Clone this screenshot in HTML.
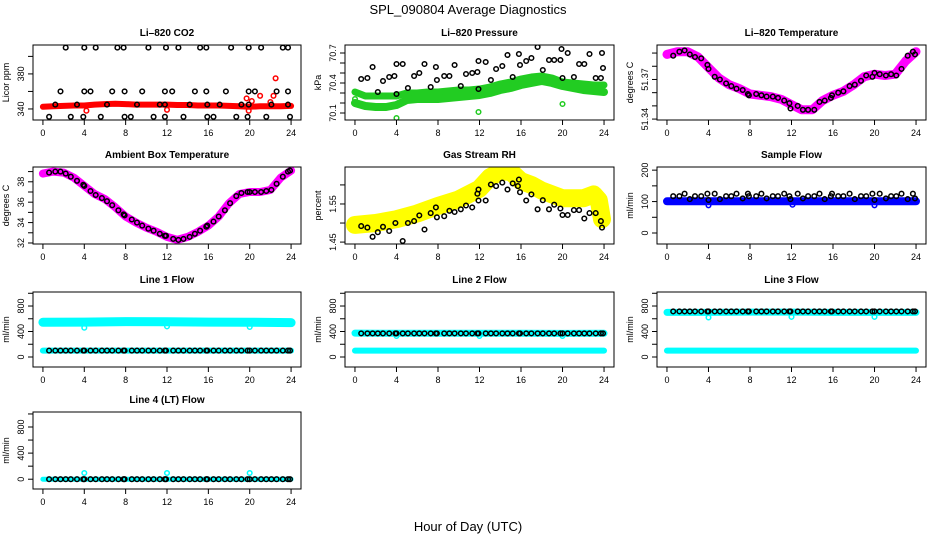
<!DOCTYPE html>
<html><head><meta charset="utf-8"><style>
html,body{margin:0;padding:0;background:#fff;}
svg{display:block;font-family:"Liberation Sans",sans-serif;}
</style></head><body>
<svg id="chart" width="936" height="540" viewBox="0 0 936 540" xmlns="http://www.w3.org/2000/svg">
<rect width="936" height="540" fill="#fff"/>
<text x="468" y="14" text-anchor="middle" font-size="13">SPL_090804  Average Diagnostics</text>
<text x="468" y="531" text-anchor="middle" font-size="13">Hour of Day (UTC)</text>
</svg>
<script>
// ---- shared data ----
const xTicks = [0,4,8,12,16,20,24];
const T48 = [0.6,1.2,1.7,2.2,2.7,3.3,3.9,4.0,4.6,5.1,5.7,6.2,6.7,7.3,7.8,7.9,8.6,9.1,9.6,10.2,10.7,11.3,11.8,11.9,12.6,13.1,13.6,14.2,14.7,15.2,15.8,15.9,16.5,17.0,17.6,18.1,18.7,19.2,19.8,20.0,20.5,21.1,21.6,22.1,22.6,23.2,23.7,23.9];
const hours = [0,1,2,3,4,5,6,7,8,9,10,11,12,13,14,15,16,17,18,19,20,21,22,23,24];

// CO2
const co2BandVals = [342.5,343,343.5,344,344,345,345.5,346,345.5,345,345,345,345,344.5,344.5,344,344,344,343.5,343,342.5,343,343,343,343.5];
const co2Times = [2.2,4.0,5.1,7.2,7.8,10.2,11.9,13.1,15.2,15.8,18.2,19.9,21.1,23.2,23.7, 1.7,4.0,4.6,6.7,7.9,9.6,11.8,12.5,14.7,15.8,17.7,19.9,20.5,22.6,23.7, 1.2,3.3,6.2,9.1,11.3,11.8,14.2,15.9,17.1,19.2,19.9,22.1,23.7, 0.6,2.7,3.9,5.6,7.9,8.5,10.7,11.8,13.6,15.9,16.5,18.7,19.8,21.6,23.9];
const co2Vals = [410,410,410,410,410,410,410,410,410,410,410,410,410,410,410, 360,360,360,360,360,360,360,360,360,360,360,360,360,360,360, 345,345,345,345,345,345,345,345,345,345,345,345,345, 331,331,331,331,331,331,331,331,331,331,331,331,331,331,331];
const co2OutT = [4.2,12.0,19.7,19.9,20.2,21.0,22.0,22.3,22.5];
const co2OutV = [338,339,352,338,349,355,348,355,375];

// Pressure
const presUpper = [70.31,70.27,70.27,70.27,70.27,70.3,70.3,70.31,70.31,70.32,70.33,70.33,70.34,70.36,70.39,70.41,70.44,70.46,70.47,70.45,70.41,70.4,70.39,70.38,70.38];
const presLower = [70.2,70.17,70.16,70.16,70.18,70.23,70.24,70.24,70.24,70.25,70.26,70.27,70.28,70.3,70.33,70.35,70.38,70.4,70.42,70.4,70.37,70.35,70.33,70.32,70.31];
const presT = [0.6,1.2,1.7,2.2,2.7,3.3,3.8,4.0,4.0,4.6,5.1,5.7,6.2,6.7,7.3,7.8,7.9,8.6,9.1,9.6,10.2,10.7,11.3,11.8,11.9,11.9,12.6,13.1,13.6,14.2,14.7,15.2,15.8,15.9,16.5,17.0,17.6,18.1,18.7,19.2,19.8,19.9,20.0,20.5,21.1,21.6,22.1,22.6,23.2,23.7,23.8,23.9];
const presV = [70.44,70.45,70.56,70.31,70.42,70.46,70.47,70.59,70.29,70.59,70.35,70.47,70.5,70.59,70.36,70.56,70.43,70.47,70.47,70.58,70.37,70.49,70.5,70.51,70.62,70.34,70.61,70.43,70.54,70.57,70.68,70.46,70.69,70.58,70.62,70.65,70.76,70.53,70.63,70.63,70.63,70.74,70.45,70.7,70.46,70.59,70.59,70.69,70.45,70.45,70.7,70.55];
const presOutT = [0.0,4.0,11.9,20.0];
const presOutV = [70.24,70.05,70.11,70.19];

// Li-820 temperature
const liBand = [51.389,51.391,51.391,51.387,51.379,51.371,51.366,51.363,51.359,51.358,51.357,51.355,51.351,51.347,51.347,51.354,51.358,51.361,51.366,51.372,51.374,51.373,51.374,51.384,51.391];
const liVals = [51.388,51.391,51.392,51.389,51.387,51.386,51.381,51.378,51.372,51.37,51.367,51.365,51.363,51.362,51.359,51.358,51.359,51.358,51.357,51.357,51.356,51.354,51.352,51.348,51.35,51.347,51.347,51.347,51.353,51.354,51.356,51.358,51.36,51.361,51.365,51.366,51.369,51.373,51.372,51.375,51.374,51.373,51.374,51.373,51.378,51.388,51.391,51.389];

// Ambient box temperature
const ambBand = [38.8,39.0,38.9,38.4,37.6,36.8,36.3,35.5,34.6,34.0,33.5,33.1,32.6,32.3,32.6,33.1,33.7,34.6,35.9,36.8,37.0,37.0,37.2,38.4,39.1];
const ambVals = [38.9,39.0,39.0,38.8,38.5,38.1,37.7,37.6,37.1,36.7,36.4,36.1,35.7,35.2,34.8,34.7,34.3,34.0,33.7,33.4,33.2,32.9,32.7,32.7,32.4,32.3,32.4,32.6,32.9,33.2,33.6,33.7,34.1,34.6,35.2,35.9,36.6,36.9,37.0,37.0,37.0,37.0,37.1,37.2,37.8,38.5,39.0,39.1];

// Gas stream RH
const rhBandT = [0,2,4,6,8,10,12,13,14,15,16,17,18,20,22,23,23.5,23.8];
const rhBandV = [1.495,1.5,1.51,1.525,1.545,1.562,1.59,1.62,1.635,1.635,1.61,1.6,1.585,1.565,1.565,1.575,1.56,1.51];
const rhT = [0.6,1.2,1.7,2.2,2.7,3.3,3.9,4.6,5.1,5.7,6.2,6.7,7.3,7.8,7.9,8.6,9.1,9.6,10.2,10.7,11.3,11.8,11.9,11.9,12.6,13.1,13.6,14.2,14.7,15.2,15.7,15.8,15.9,16.5,17.0,17.6,18.1,18.7,19.2,19.8,20.0,20.5,21.1,21.6,22.1,22.6,23.2,23.7,23.8];
const rhV = [1.492,1.488,1.464,1.476,1.49,1.479,1.5,1.453,1.5,1.505,1.52,1.483,1.526,1.541,1.515,1.518,1.532,1.529,1.536,1.546,1.541,1.577,1.559,1.588,1.559,1.601,1.597,1.606,1.588,1.604,1.597,1.614,1.581,1.559,1.575,1.536,1.56,1.536,1.548,1.538,1.521,1.521,1.534,1.534,1.512,1.526,1.526,1.505,1.488];

// Sample flow
const sfBand = [101,101,101,101,101,101,101,101,101,101,101,101,101,101,101,101,101,101,101,101,101,101,101,101,101];
const sfVals = [117,117,125,108,117,117,125,105,125,108,117,117,125,110,125,117,117,125,110,117,117,125,117,108,125,110,117,117,125,108,117,125,117,117,125,108,117,117,125,105,125,110,117,117,125,108,125,110];
const sfOutT = [4.0,12.1,20.0];
const sfOutV = [88,90,88];

// Line flows
const flowBandT = [0,4,8,12,16,20,24];
const l1Hi = [545,548,555,552,548,546,540];
const l1Lo = [100,100,100,100,100,100,100];
const l1Black = T48.map(()=>100);
const l1OutV = [460,480,470];
const l2Hi = [375,372,372,372,372,370,372];
const l2Lo = [100,100,100,100,100,100,100];
const l2Black = T48.map(()=>370);
const l2OutV = [330,330,330];
const l3Hi = [700,700,705,705,700,700,700];
const l3Lo = [100,100,100,100,100,100,100];
const l3Black = T48.map(()=>715);
const l3OutV = [620,630,630];
const l4Band = [0,0,0,0,0,0,0];
const l4Black = T48.map(()=>0);
const l4OutV = [95,95,95];
const flowOutT = [4.0,12.0,20.0];

// ---- drawing ----
const svg = document.getElementById('chart');
const NS = 'http://www.w3.org/2000/svg';
const colL = [33,345,657], colR = [301,614,926];
const rowT = [45,167,292,412], rowB = [120,244,367,489];
const XMIN=-0.96, XMAX=24.96;

function mk(tag, attrs, parent){
  const e=document.createElementNS(NS,tag);
  for(const k in attrs) e.setAttribute(k,attrs[k]);
  (parent||svg).appendChild(e); return e;
}

function panel(id, c, r, title, ylab, ylim, ticks, labels){
  const g = mk('g',{});
  
  
  const L=colL[c], R=colR[c], T=rowT[r], B=rowB[r];
  const xs = v => L + (v-XMIN)/(XMAX-XMIN)*(R-L);
  const ys = v => B - (v-ylim[0])/(ylim[1]-ylim[0])*(B-T);
  const cp = mk('clipPath',{id:'clip-'+id},g);
  mk('rect',{x:L,y:T,width:R-L,height:B-T},cp);
  const plot = mk('g',{'clip-path':'url(#clip-'+id+')'},g);
  
  
  const box = mk('rect',{x:L,y:T,width:R-L,height:B-T,fill:'none',stroke:'#000','stroke-width':1},g);
  
  
  const tt = mk('text',{x:(L+R)/2,y:T-9,'text-anchor':'middle','font-size':10,'font-weight':'bold'},g);
  tt.textContent = title;
  
  
  xTicks.forEach(t=>{
    const x=xs(t);
    mk('line',{x1:x,x2:x,y1:B,y2:B+5,stroke:'#000','stroke-width':1},g);
    const tx = mk('text',{x:x,y:B+16,'text-anchor':'middle','font-size':9},g);
    tx.textContent=t;
    
    
  });
  ticks.forEach((t,i)=>{
    const y=ys(t);
    mk('line',{x1:L-5,x2:L,y1:y,y2:y,stroke:'#000','stroke-width':1},g);
    if(labels[i]){
      const lx=L-9;
      const tx = mk('text',{x:lx,y:y,'text-anchor':'middle','font-size':9,transform:'rotate(-90 '+lx+' '+y+')'},g);
      tx.textContent=labels[i];
      
      
    }
  });
  const yl=L-24, ym=(T+B)/2;
  const yt = mk('text',{x:yl,y:ym,'text-anchor':'middle','font-size':9,transform:'rotate(-90 '+yl+' '+ym+')'},g);
  yt.textContent=ylab;
  
  
  return {
    band(ts, vs, color, w){
      const pts = ts.map((t,i)=>xs(t).toFixed(1)+','+ys(vs[i]).toFixed(1)).join(' ');
      const p = mk('polyline',{points:pts,fill:'none',stroke:color,'stroke-width':w,'stroke-linejoin':'round','stroke-linecap':'round'},plot);
      
      
    },
    points(ts, vs, color, rad){
      ts.forEach((t,i)=>{
        const c = mk('circle',{cx:xs(t).toFixed(1),cy:ys(vs[i]).toFixed(1),r:rad||2.3,fill:'none',stroke:color,'stroke-width':1.5},plot);
        
        
      });
    }
  };
}

let p;
p = panel('co2',0,0,'Li\u2013820 CO2','Licor ppm',[327.4,413],[340,360,380,400],['340','','380','']);
p.band(hours, co2BandVals, '#ff0000', 6);
p.points(co2OutT, co2OutV, '#ff0000');
p.points(co2Times, co2Vals, '#000');

p = panel('pressure',1,0,'Li\u2013820 Pressure','kPa',[70.03,70.78],[70.1,70.2,70.3,70.4,70.5,70.6,70.7],['70.1','','','70.4','','','70.7']);
p.band(hours, presUpper, '#22cc22', 7);
p.band(hours, presLower, '#22cc22', 8);
p.points(presOutT, presOutV, '#22cc22');
p.points(presT, presV, '#000');

p = panel('li-temp',2,0,'Li\u2013820 Temperature','degrees C',[51.3393,51.3961],[51.34,51.35,51.36,51.37,51.38,51.39],['51.34','','','51.37','','']);
p.band(hours, liBand, '#ff00ff', 9);
p.points(T48, liVals, '#000');

p = panel('ambient-temp',0,1,'Ambient Box Temperature','degrees C',[31.9,39.45],[32,33,34,35,36,37,38,39],['32','','34','','36','','38','']);
p.band(hours, ambBand, '#ff00ff', 8);
p.points(T48, ambVals, '#000');

p = panel('gas-rh',1,1,'Gas Stream RH','percent',[1.445,1.647],[1.45,1.5,1.55,1.6],['1.45','','1.55','']);
p.band(rhBandT, rhBandV, '#ffff00', 18);
p.points(rhT, rhV, '#000');

p = panel('sample-flow',2,1,'Sample Flow','ml/min',[-35,210],[0,50,100,150,200],['0','','100','','200']);
p.band(hours, sfBand, '#0000ff', 8);
p.points(sfOutT, sfOutV, '#0000ff');
p.points(T48, sfVals, '#000');

const fTicks=[0,200,400,600,800,1000], fLabels=['0','','400','','800',''];
p = panel('line1-flow',0,2,'Line 1 Flow','ml/min',[-157,1020],fTicks,fLabels);
p.band(flowBandT, l1Hi, '#00ffff', 9);
p.band(flowBandT, l1Lo, '#00ffff', 6);
p.points(flowOutT, l1OutV, '#00ffff');
p.points(T48, l1Black, '#000');

p = panel('line2-flow',1,2,'Line 2 Flow','ml/min',[-157,1020],fTicks,fLabels);
p.band(flowBandT, l2Hi, '#00ffff', 7);
p.band(flowBandT, l2Lo, '#00ffff', 6);
p.points(flowOutT, l2OutV, '#00ffff');
p.points(T48, l2Black, '#000');

p = panel('line3-flow',2,2,'Line 3 Flow','ml/min',[-157,1020],fTicks,fLabels);
p.band(flowBandT, l3Hi, '#00ffff', 7);
p.band(flowBandT, l3Lo, '#00ffff', 6);
p.points(flowOutT, l3OutV, '#00ffff');
p.points(T48, l3Black, '#000');

p = panel('line4-flow',0,3,'Line 4 (LT) Flow','ml/min',[-150,1030],fTicks,fLabels);
p.band(flowBandT, l4Band, '#00ffff', 5);
p.points(flowOutT, l4OutV, '#00ffff');
p.points(T48, l4Black, '#000');
</script>
</body></html>
